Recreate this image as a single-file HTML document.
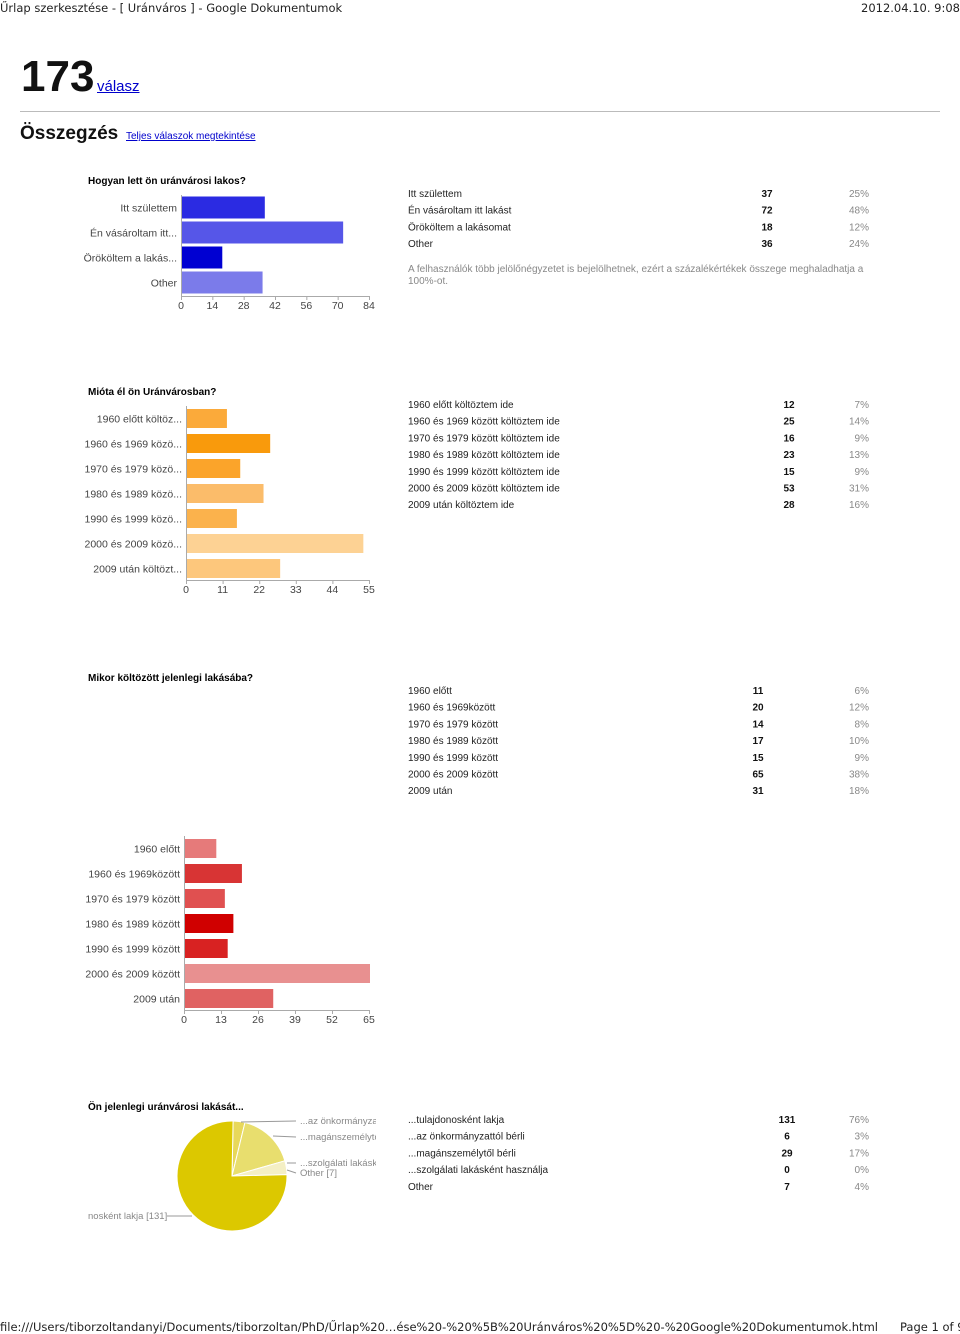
<!DOCTYPE html>
<html><head><meta charset="utf-8">
<style>
body{margin:0;width:960px;height:1334px;background:#fff;position:relative;font-family:"Liberation Sans",sans-serif;overflow:hidden}
.a{position:absolute;white-space:nowrap}
.t{font-size:10px;color:#222}
.q{font-size:10px;font-weight:bold;color:#000}
.g{color:#888}
svg text{font-family:"Liberation Sans",sans-serif}
</style></head><body>
<div class="a" style="left:0;top:1px;font-size:11.5px;font-family:'DejaVu Sans',sans-serif;color:#222">Űrlap szerkesztése - [ Uránváros ] - Google Dokumentumok</div>
<div class="a" style="left:861px;top:1px;font-size:11.5px;font-family:'DejaVu Sans',sans-serif;color:#222">2012.04.10. 9:08</div>
<div class="a" style="left:21px;top:52px;font-size:44px;font-weight:bold;color:#111">173</div>
<a class="a" href="#" style="left:97px;top:78px;font-size:15px;color:#00c">válasz</a>
<div class="a" style="left:20px;top:111px;width:920px;height:1px;background:#bbb"></div>
<div class="a" style="left:20px;top:123px;font-size:19px;font-weight:bold;color:#111">Összegzés</div>
<a class="a" href="#" style="left:126px;top:131px;font-size:10px;color:#00c">Teljes válaszok megtekintése</a>

<div class="a q" style="left:88px;top:176px">Hogyan lett ön uránvárosi lakos?</div>
<div class="a q" style="left:88px;top:387px">Mióta él ön Uránvárosban?</div>
<div class="a q" style="left:88px;top:673px">Mikor költözött jelenlegi lakásába?</div>
<div class="a q" style="left:88px;top:1102px">Ön jelenlegi uránvárosi lakását...</div>
<div class="a t g" style="left:408px;top:264px;white-space:normal;width:470px;line-height:12px">A felhasználók több jelölőnégyzetet is bejelölhetnek, ezért a százalékértékek összege meghaladhatja a 100%-ot.</div>

<svg id="svg" width="960" height="1334" style="position:absolute;left:0;top:0"></svg>

<div class="a" style="left:0;top:1320px;font-size:11.5px;font-family:'DejaVu Sans',sans-serif;color:#222">file:///Users/tiborzoltandanyi/Documents/tiborzoltan/PhD/Űrlap%20…ése%20-%20%5B%20Uránváros%20%5D%20-%20Google%20Dokumentumok.html</div>
<div class="a" style="left:896px;top:1320px;font-size:11.5px;font-family:'DejaVu Sans',sans-serif;color:#222;background:#fff;padding-left:4px">Page 1 of 9</div>

<script>
const q1Labels=["Itt születtem","Én vásároltam itt...","Örököltem a lakás...","Other"];
const q1Full=["Itt születtem","Én vásároltam itt lakást","Örököltem a lakásomat","Other"];
const q1Values=[37,72,18,36];
const q1Pct=["25%","48%","12%","24%"];
const q1Ticks=[0,14,28,42,56,70,84];

const q2Labels=["1960 előtt költöz...","1960 és 1969 közö...","1970 és 1979 közö...","1980 és 1989 közö...","1990 és 1999 közö...","2000 és 2009 közö...","2009 után költözt..."];
const q2Full=["1960 előtt költöztem ide","1960 és 1969 között költöztem ide","1970 és 1979 között költöztem ide","1980 és 1989 között költöztem ide","1990 és 1999 között költöztem ide","2000 és 2009 között költöztem ide","2009 után költöztem ide"];
const q2Values=[12,25,16,23,15,53,28];
const q2Pct=["7%","14%","9%","13%","9%","31%","16%"];
const q2Ticks=[0,11,22,33,44,55];

const q3Labels=["1960 előtt","1960 és 1969között","1970 és 1979 között","1980 és 1989 között","1990 és 1999 között","2000 és 2009 között","2009 után"];
const q3Values=[11,20,14,17,15,65,31];
const q3Pct=["6%","12%","8%","10%","9%","38%","18%"];
const q3Ticks=[0,13,26,39,52,65];

const q4Labels=["...tulajdonosként lakja","...az önkormányzattól bérli","...magánszemélytől bérli","...szolgálati lakásként használja","Other"];
const q4Values=[131,6,29,0,7];
const q4Pct=["76%","3%","17%","0%","4%"];

const svg=document.getElementById('svg');
const NS="http://www.w3.org/2000/svg";
function mk(tag,attrs,parent){const e=document.createElementNS(NS,tag);for(const k in attrs)e.setAttribute(k,attrs[k]);(parent||svg).appendChild(e);return e;}
function txt(x,y,s,attrs,parent){const e=mk('text',Object.assign({x:x,y:y,'font-size':10,fill:'#222'},attrs||{}),parent);e.textContent=s;return e;}

function barChart(id,labels,values,ticks,colors,x0,x1,yTop,step,bh){
  const g=mk('g',{});
  
  
  const max=ticks[ticks.length-1];
  const sx=v=>x0+(v/max)*(x1-x0);
  const lastC=yTop+step*(labels.length-1)+step/2;
  const yB=Math.round(lastC+bh/2+2);
  labels.forEach((l,i)=>{
    const cy=yTop+step*i+step/2;
    const r=mk('rect',{x:sx(0)+1,y:cy-bh/2,width:sx(values[i])-sx(0),height:bh,fill:colors[i]},g);
    
    
    const t=txt(x0-4,cy+4,l,{'text-anchor':'end',fill:'#444','font-size':10.5},g);
    
    
  });
  mk('line',{x1:x0+.5,y1:yTop,x2:x0+.5,y2:yB,stroke:'#aaa'},g);
  mk('line',{x1:x0,y1:yB+.5,x2:x1+1,y2:yB+.5,stroke:'#aaa'},g);
  ticks.forEach(t=>{
    mk('line',{x1:sx(t)+.5,y1:yB,x2:sx(t)+.5,y2:yB+4,stroke:'#aaa'},g);
    const e=txt(sx(t),yB+13,String(t),{'text-anchor':'middle',fill:'#444','font-size':10.5},g);
    
    
  });
}
barChart('q1',q1Labels,q1Values,q1Ticks,["#2b2be2","#5656e8","#0000d2","#7b7bea"],181,369,195,25,22);
barChart('q2',q2Labels,q2Values,q2Ticks,["#fbaa3a","#f99a0c","#fba42a","#fbbc6a","#fbb24c","#fdd294","#fdc77c"],186,369,406,25,19);
barChart('q3',q3Labels,q3Values,q3Ticks,["#e67a7a","#d83434","#e05050","#d00000","#d82222","#e89090","#e06262"],184,369,836,25,19);

function table(id,labels,values,pct,y0,numX){
  labels.forEach((l,i)=>{
    const y=y0+i*16.7;
    const a=txt(408,y,l,{});
    
    
    const b=txt(numX,y,String(values[i]),{'font-weight':'bold','text-anchor':'middle',fill:'#111'});
    
    
    const c=txt(869,y,pct[i],{'text-anchor':'end',fill:'#888'});
    
    
  });
}
table('q1',q1Full,q1Values,q1Pct,197,767);
table('q2',q2Full,q2Values,q2Pct,408,789);
table('q3',q3Labels,q3Values,q3Pct,694,758);
table('q4',q4Labels,q4Values,q4Pct,1123,787);

// pie
const pieColors=["#dcc800","#e8d85a","#e8de6e","#eee6a0","#f4efc4"];
const cx=232,cy=1176,R=55;
const total=q4Values.reduce((a,b)=>a+b,0);
const order=[1,2,3,4,0];
let ang=-Math.PI/2+0.02;
const pg=mk('g',{});


order.forEach(i=>{
  const a0=ang,a1=ang+q4Values[i]/total*2*Math.PI;ang=a1;
  if(q4Values[i]===0)return;
  const large=(a1-a0)>Math.PI?1:0;
  const p=mk('path',{d:`M${cx},${cy} L${cx+R*Math.cos(a0)},${cy+R*Math.sin(a0)} A${R},${R} 0 ${large} 1 ${cx+R*Math.cos(a1)},${cy+R*Math.sin(a1)} Z`,fill:pieColors[i],stroke:'#fff','stroke-width':1},pg);
  
  
});
const lbls=[["...az önkormányzat",300,1124,[[241,1122],[296,1121]]],["...magánszemélytő",300,1140,[[273,1136],[296,1137]]],["...szolgálati lakáské",300,1166,[[287,1163],[296,1163]]],["Other [7]",300,1176,[[287,1170],[296,1173]]]];
lbls.forEach(l=>{
  mk('polyline',{points:l[3].map(p=>p.join(',')).join(' '),fill:'none',stroke:'#999'},pg);
  const t=txt(l[1],l[2],l[0],{fill:'#888','font-size':9.5},pg);
  
  
});
mk('line',{x1:167,y1:1216,x2:192,y2:1216,stroke:'#999'},pg);
const tl=txt(88,1219,"nosként lakja [131]",{fill:'#888','font-size':9.5},pg);


mk('rect',{x:376,y:1110,width:30,height:80,fill:'#fff'},pg);
</script>
</body></html>
